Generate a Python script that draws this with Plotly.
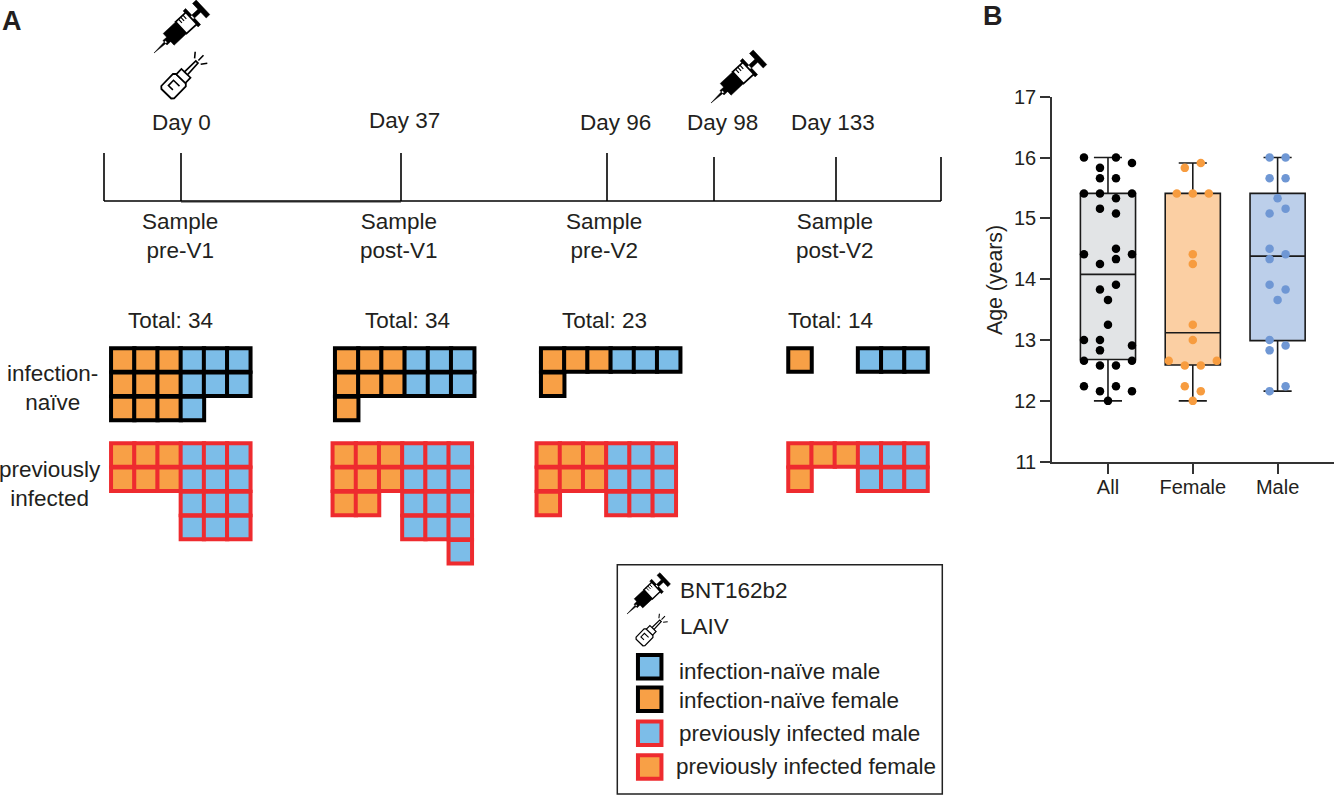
import math
import plotly.graph_objects as go

# Panel A: timeline
timeline_ticks = [104, 181, 401, 607, 714, 836, 941]
timeline_tops = [153, 153, 153, 153, 157, 157, 157]
day_labels = ["Day 0", "Day 37", "Day 96", "Day 98", "Day 133"]
sample_labels = ["Sample<br>pre-V1", "Sample<br>post-V1", "Sample<br>pre-V2", "Sample<br>post-V2"]
total_labels = ["Total: 34", "Total: 34", "Total: 23", "Total: 14"]

# Panel A: participant grids, F = female, M = male, . = empty
naive_grids = [
    ["FFFMMM", "FFFMMM", "FFFM.."],
    ["FFFMMM", "FFFMMM", "F....."],
    ["FFFMMM", "F....."],
    ["F..MMM"],
]
infected_grids = [
    ["FFFMMM", "FFFMMM", "...MMM", "...MMM"],
    ["FFFMMM", "FFFMMM", "FF.MMM", "...MMM", ".....M"],
    ["FFFMMM", "FFFMMM", "F..MMM"],
    ["FFFMMM", "F..MMM"],
]
legend_labels = ["infection-naïve male", "infection-naïve female",
                 "previously infected male", "previously infected female"]

# Panel B: boxes
groups = ["All", "Female", "Male"]
box_low = [12.0, 12.0, 12.16]
box_q1 = [12.68, 12.59, 12.99]
box_median = [14.08, 13.12, 14.38]
box_q3 = [15.41, 15.41, 15.41]
box_high = [16.0, 15.91, 16.0]

# Panel B: ages and swarm column of each point
all_age = [16.0, 16.0, 15.91, 15.83, 15.66, 15.66, 15.41, 15.41, 15.41, 15.33, 15.16, 15.08,
           14.5, 14.41, 14.41, 14.33, 14.25, 13.91, 13.83, 13.66, 13.25, 13.0, 13.0, 12.91,
           12.83, 12.66, 12.66, 12.58, 12.58, 12.24, 12.24, 12.16, 12.16, 12.0]
all_col = [-3, 1, 3, -1, -1, 1, -3, -1, 3, 1, -1, 1,
           1, -3, 3, 1, -1, 1, -1, 0, 0, -3, -1, 3,
           -1, -3, 3, -1, 1, -3, 1, -1, 3, 0]
female_age = [15.91, 15.83, 15.41, 15.41, 15.41, 14.41, 14.25, 13.25, 13.0, 12.66, 12.66,
              12.58, 12.58, 12.24, 12.16, 12.0]
female_col = [1, -1, -2, 0, 2, 0, 0, 0, 0, -3, 3, -1, 1, -1, 1, 0]
male_age = [16.0, 16.0, 15.66, 15.66, 15.33, 15.16, 15.08, 14.5, 14.41, 14.33, 13.91, 13.83,
            13.66, 13.0, 12.91, 12.83, 12.24, 12.16]
male_col = [-1, 1, -1, 1, 0, 1, -1, -1, 1, -1, -1, 1, 0, -1, 1, -1, 1, -1]

ORANGE = "#f8a046"
BLUE = "#7cbde8"
RED = "#ee2b2f"
TEXT = "#231f20"
FONT = "Liberation Sans"

fig = go.Figure()


def add_text(text, x, y, size=22.5, anchor="center", bold=False, angle=0):
    if bold:
        text = "<b>" + text + "</b>"
    fig.add_annotation(x=x, y=y, xref="x", yref="y", text=text, showarrow=False, xanchor=anchor,
                       yanchor="middle", align="center", textangle=angle,
                       font=dict(family=FONT, size=size, color=TEXT))


def add_squares(xs, ys, fill, border, size=23.5):
    fig.add_trace(go.Scatter(x=xs, y=ys, mode="markers", xaxis="x", yaxis="y", hoverinfo="skip",
                             marker=dict(symbol="square", size=size, color=fill,
                                         line=dict(color=border, width=4))))


def add_grid(grid, left, top, border):
    for code, fill in (("F", ORANGE), ("M", BLUE)):
        xs, ys = [], []
        for r, row in enumerate(grid):
            for c, cell in enumerate(row):
                if cell == code:
                    xs.append(left + c * 23.2)
                    ys.append(top + r * 24.2)
        if xs:
            add_squares(xs, ys, fill, border)


def icon_path(parts, tip, angle, scale):
    # parts are polylines in (along, across) icon units, closed when the flag is set
    a = math.radians(angle)
    out = ""
    for pts, closed in parts:
        for i, (u, v) in enumerate(pts):
            x = tip[0] + scale * (u * math.cos(a) + v * math.sin(a))
            y = tip[1] + scale * (-u * math.sin(a) + v * math.cos(a))
            out += ("M" if i == 0 else "L") + f"{x:.1f},{y:.1f} "
        if closed:
            out += "Z "
    return out


def add_icon_path(parts, tip, angle, scale, fill, width):
    fig.add_shape(type="path", path=icon_path(parts, tip, angle, scale), xref="x", yref="y",
                  fillcolor=fill, line=dict(color="black", width=width))


def add_syringe(tip, scale):
    add_icon_path([([(0, 0), (17, -1.2), (17, 1.2)], True),
                   ([(15, -3), (20, -3), (20, 3), (15, 3)], True),
                   ([(20, -8), (37, -8), (37, 8), (20, 8)], True),
                   ([(51, -2), (62, -2), (62, 2), (51, 2)], True),
                   ([(50, -11), (53.5, -11), (53.5, 11), (50, 11)], True),
                   ([(62, -10), (67, -10), (67, 10), (62, 10)], True)],
                  tip, 43, scale, "black", 0.5)
    add_icon_path([([(37, -8), (51, -8), (51, 8), (37, 8)], True)], tip, 43, scale, "white", 1.8 * scale)
    add_icon_path([([(41, -8), (41, -3)], False), ([(44, -8), (44, -3)], False), ([(47, -8), (47, -3)], False)],
                  tip, 43, scale, "rgba(0,0,0,0)", 1.2 * scale)


def add_sprayer(base, scale):
    body = [(1, -8.5), (17, -8.5), (19, -6.5), (19, 6.5), (17, 8.5), (1, 8.5), (-1, 6.5), (-1, -6.5)]
    add_icon_path([(body, True)], base, 46, scale, "white", 1.7 * scale)
    add_icon_path([([(19, -6), (26, -6), (26, 6), (19, 6)], True),
                   ([(26, -2), (41, -1.5), (41, 1.5), (26, 2)], True)],
                  base, 46, scale, "white", 1.6 * scale)
    add_icon_path([([(6, 2), (6, -4), (13, -4), (13, 4)], False),
                   ([(43, 0), (50, 0)], False), ([(42, -4), (47, -8)], False), ([(42, 4), (47, 8)], False)],
                  base, 46, scale, "rgba(0,0,0,0)", 1.5 * scale)


# timeline
line_x, line_y = [], []
for tx, ty in zip(timeline_ticks, timeline_tops):
    line_x += [tx, tx, None]
    line_y += [ty, 201, None]
line_x += [timeline_ticks[0], timeline_ticks[-1]]
line_y += [201, 201]
fig.add_trace(go.Scatter(x=[timeline_ticks[1], timeline_ticks[2]], y=[202, 202], mode="lines", xaxis="x", yaxis="y",
                         hoverinfo="skip", line=dict(color="#777777", width=1.4)))
fig.add_trace(go.Scatter(x=line_x, y=line_y, mode="lines", xaxis="x", yaxis="y", hoverinfo="skip",
                         line=dict(color="black", width=1.6)))

for text, x, y in zip(day_labels, [181, 404, 615, 722, 833], [122, 120, 122, 122, 122]):
    add_text(text, x, y)
for text, x in zip(sample_labels, [180, 399, 604, 835]):
    add_text(text, x, 235.5)
for text, x in zip(total_labels, [170, 407, 604, 830]):
    add_text(text, x, 320)

add_text("infection-<br>naïve", 52, 388)
add_text("previously<br>infected", 50, 483.5)
add_text("A", 12, 21, size=27, bold=True)
add_text("B", 993, 16, size=27, bold=True)
add_text("Age (years)", 995, 280, size=21.3, angle=-90)

# waffles
for grid, left in zip(naive_grids, [122.8, 346.7, 552.7, 800]):
    add_grid(grid, left, 360, "black")
for grid, left in zip(infected_grids, [122.8, 344.3, 548.3, 800]):
    add_grid(grid, left, 455, RED)

# legend box
fig.add_shape(type="rect", x0=617.3, x1=942.3, y0=564.7, y1=794, xref="x", yref="y",
              line=dict(color="#222222", width=1.5))
add_text("BNT162b2", 678, 590, anchor="left")
add_text("LAIV", 678, 626, anchor="left")
legend_fill = [BLUE, ORANGE, BLUE, ORANGE]
legend_border = ["black", "black", RED, RED]
for label, fill, border, y, ty, tx in zip(legend_labels, legend_fill, legend_border,
                                          [666.7, 699.3, 733.3, 767], [671, 700, 733, 766],
                                          [676.7, 676.7, 676.7, 674.3]):
    add_squares([649.7], [y], fill, border)
    add_text(label, tx, ty, anchor="left")

# icons
add_syringe((154, 53), 1.0)
add_sprayer((167, 93), 1.05)
add_syringe((711, 103), 1.0)
add_syringe((627, 614), 0.78)
add_sprayer((640, 642), 0.72)

# Panel B
box_fill = ["#e2e4e6", "#fbcfa3", "#bccfea"]
point_color = ["black", "#f79c3f", "#6f97d4"]
swarm_step = 8 / 84.8
for i, (ages, cols) in enumerate([(all_age, all_col), (female_age, female_col), (male_age, male_col)]):
    fig.add_trace(go.Box(x=[i], q1=[box_q1[i]], median=[box_median[i]], q3=[box_q3[i]],
                         lowerfence=[box_low[i]], upperfence=[box_high[i]], width=0.65, whiskerwidth=0.51,
                         fillcolor=box_fill[i], line=dict(color="#1a1a1a", width=1.6), boxpoints=False,
                         xaxis="x2", yaxis="y2", hoverinfo="skip"))
    fig.add_trace(go.Scatter(x=[i + c * swarm_step for c in cols], y=ages, mode="markers", xaxis="x2", yaxis="y2",
                             marker=dict(size=8.5, color=point_color[i]), cliponaxis=False, hoverinfo="skip"))

fig.update_layout(
    width=1336, height=798, margin=dict(l=0, r=0, t=0, b=0), showlegend=False,
    paper_bgcolor="white", plot_bgcolor="white",
    xaxis=dict(domain=[0, 1], range=[0, 1336], visible=False, fixedrange=True, automargin=False),
    yaxis=dict(domain=[0, 1], range=[798, 0], visible=False, fixedrange=True, automargin=False),
    xaxis2=dict(domain=[1052 / 1336, 1334 / 1336], range=[-0.66, 2.665], anchor="y2", tickmode="array",
                tickvals=[0, 1, 2], ticktext=groups, ticks="outside", ticklen=10, tickwidth=1.7,
                tickcolor="#333333", showline=True, linecolor="#333333", linewidth=1.7, showgrid=False,
                zeroline=False, tickfont=dict(family=FONT, size=20, color=TEXT), fixedrange=True,
                automargin=False, ticklabelstandoff=-4),
    yaxis2=dict(domain=[(798 - 461.7) / 798, (798 - 96.7) / 798], range=[11, 17], anchor="x2", dtick=1,
                ticks="outside", ticklen=10, tickwidth=1.7, tickcolor="#333333", showline=True,
                linecolor="#333333", linewidth=1.7, showgrid=False, zeroline=False,
                tickfont=dict(family=FONT, size=20, color=TEXT), fixedrange=True, automargin=False),
)

fig.write_html("out.html", config={"displayModeBar": False},
               post_script="document.body.style.margin='0';document.body.style.overflow='hidden';")
